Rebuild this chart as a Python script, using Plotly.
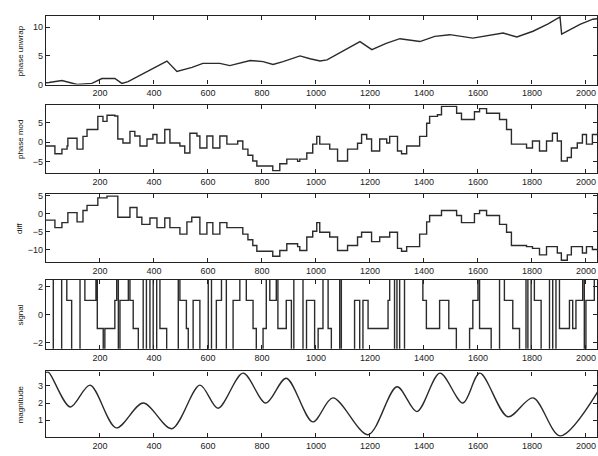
import plotly.graph_objects as go

# ---------------- data ----------------
x_ticks = [200, 400, 600, 800, 1000, 1200, 1400, 1600, 1800, 2000]

unwrap_x = [0, 11, 59, 115, 170, 207, 255, 281, 304, 380, 448, 485, 541, 581, 644, 681,
            756, 804, 841, 878, 941, 978, 1015, 1041, 1100, 1163, 1207, 1260, 1311, 1385,
            1440, 1496, 1581, 1640, 1693, 1744, 1804, 1860, 1904, 1910, 1978, 2026, 2045]
unwrap_y = [0.3, 0.35, 0.7, 0.0, 0.2, 1.05, 1.05, 0.2, 0.5, 2.4, 4.1, 2.3, 3.0, 3.7, 3.7, 3.3,
            4.2, 4.0, 3.5, 4.0, 5.0, 4.5, 4.1, 4.3, 5.9, 7.5, 6.1, 7.2, 8.0, 7.5,
            8.4, 8.7, 8.1, 8.6, 9.0, 8.3, 9.3, 10.6, 11.8, 8.8, 10.5, 11.4, 11.5]

mod_x = [0, 15, 33, 59, 78, 81, 107, 115, 133, 137, 152, 189, 192, 211, 226, 255, 266, 285,
         311, 329, 348, 374, 396, 411, 440, 459, 496, 514, 533, 559, 570, 596, 618, 644, 670,
         699, 710, 729, 748, 766, 781, 829, 840, 866, 892, 914, 932, 940, 966, 988, 1003,
         1014, 1051, 1080, 1117, 1154, 1169, 1188, 1206, 1236, 1262, 1273, 1302, 1317, 1336,
         1373, 1384, 1410, 1421, 1450, 1465, 1506, 1521, 1539, 1576, 1587, 1606, 1632, 1650,
         1680, 1706, 1724, 1754, 1780, 1802, 1828, 1854, 1876, 1894, 1909, 1931, 1946, 1968,
         1987, 2002, 2024, 2045]
mod_y = [-1.0, -1.0, -3.0, -1.8, -1.0, 1.0, 1.0, -1.8, -1.8, 1.5, 3.3, 3.3, 6.7, 5.4, 7.0, 6.8,
         0.8, -0.2, 2.8, 1.6, -1.0, 0.8, 2.0, -0.2, 3.3, -0.2, -1.0, -2.8, 2.3, 1.6, -1.5, 1.6,
         -1.5, 1.6, -0.5, -0.5, 0.3, -1.8, -3.4, -4.9, -6.2, -6.2, -7.4, -5.6, -4.4, -4.4, -5.0,
         -4.4, -2.8, -0.5, 1.5, -0.5, -1.8, -4.9, -1.8, -0.3, 2.0, 0.8, -2.3, 0.8, -0.2, 1.5,
         -2.3, -3.0, -1.0, -1.0, 1.5, 4.9, 6.7, 7.1, 9.3, 9.3, 7.5, 5.9, 5.9, 7.9, 8.7, 7.5,
         7.5, 5.9, 3.3, -0.5, -0.5, -1.5, 0.3, -2.3, 0.3, 2.3, 0.3, -4.9, -4.0, -1.5, -0.2,
         2.0, -0.5, 2.0, 1.0]

diff_x = [0, 15, 33, 59, 81, 107, 115, 133, 137, 152, 189, 192, 226, 255, 266, 292, 311, 337,
          355, 385, 411, 440, 459, 496, 522, 540, 570, 596, 618, 644, 670, 710, 729, 748, 766,
          781, 829, 840, 866, 892, 914, 932, 940, 966, 988, 1003, 1014, 1051, 1080, 1117, 1154,
          1169, 1188, 1206, 1236, 1262, 1273, 1302, 1317, 1336, 1373, 1384, 1410, 1421, 1450,
          1465, 1506, 1521, 1539, 1576, 1587, 1606, 1632, 1650, 1680, 1706, 1724, 1754, 1780,
          1802, 1828, 1854, 1876, 1894, 1909, 1931, 1946, 1968, 1987, 2002, 2024, 2045]
diff_y = [-1.8, -1.8, -3.9, -2.5, 0.3, 0.3, -2.3, -2.3, 0.9, 2.3, 2.3, 4.4, 4.9, 4.9, -1.0,
          -1.0, 1.7, -1.0, -3.0, -1.2, -3.9, -1.2, -3.9, -5.7, -2.3, -1.0, -5.7, -2.5, -5.7,
          -2.5, -3.9, -3.9, -5.7, -7.3, -8.9, -10.5, -10.5, -11.9, -10.3, -8.4, -8.4, -9.2,
          -10.3, -6.5, -4.9, -2.5, -5.2, -6.5, -10.3, -8.9, -6.5, -5.2, -5.2, -7.8, -6.5, -6.5,
          -5.2, -9.7, -10.5, -9.2, -9.2, -5.7, -2.3, -0.5, -0.5, 0.9, 0.9, -0.5, -2.5, -2.5,
          0.0, 0.9, -0.5, -0.5, -3.0, -5.2, -8.9, -8.9, -9.2, -9.7, -11.5, -9.2, -9.2, -11.0,
          -13.0, -11.5, -9.2, -9.2, -11.0, -9.2, -10.0, -9.0]

signal_x = [0, 27, 58, 77, 95, 126, 144, 185, 190, 212, 218, 255, 262, 268, 274, 305, 311, 323,
            342, 360, 372, 385, 397, 410, 422, 447, 490, 496, 520, 527, 545, 570, 601, 613, 631,
            650, 668, 693, 718, 742, 767, 779, 804, 816, 829, 853, 859, 890, 909, 918, 952, 965,
            995, 1008, 1026, 1045, 1057, 1088, 1094, 1143, 1162, 1174, 1193, 1267, 1273, 1291,
            1300, 1310, 1328, 1396, 1409, 1458, 1492, 1520, 1569, 1581, 1600, 1606, 1649, 1680,
            1698, 1729, 1754, 1778, 1785, 1797, 1809, 1834, 1865, 1877, 1889, 1902, 1939, 1951,
            1963, 1988, 1994, 2000, 2031, 2045]
signal_y = [3, -3, 3, 1, -3, 3, 1, 3, -1, -3, -1, 1, 3, -3, 1, 3, 1, -1, -3, 3, -3, 3, -3, 3, -1,
            -3, 3, 1, -1, -3, 1, -3, 3, -3, 1, 3, -3, 1, 3, 1, -1, -3, -1, 3, 1, 3, -1, 1, -3, 3,
            -3, 1, -3, -1, 3, -1, -3, 3, -3, 1, -3, 1, -1, 1, 3, -3, 3, -3, 3, 1, -1, 1, -1, -3,
            -1, 1, 3, -1, -3, 3, 1, -1, -3, 3, -3, 3, 1, -3, 3, -3, 3, -1, 1, -1, 1, 3, -3, 1, 3, 3]

mag_x = [0, 10, 90, 163, 260, 360, 466, 570, 637, 730, 814, 890, 988, 1063, 1193, 1300, 1374,
         1459, 1544, 1607, 1711, 1804, 1904, 2045]
mag_y = [3.8, 3.8, 1.77, 3.05, 0.55, 2.0, 0.5, 3.05, 1.7, 3.75, 2.0, 3.45, 0.9, 2.3, 0.15, 2.95,
         1.5, 3.75, 2.0, 3.75, 1.2, 2.3, 0.08, 2.7]

y_labels = ["phase unwrap", "phase mod", "diff", "signal", "magnitude"]
y_ranges = [[0, 12], [-8, 9.6], [-13.6, 5.6], [-2.45, 2.45], [0, 3.85]]
y_tickvals = [[0, 5, 10], [-5, 0, 5], [-10, -5, 0, 5], [-2, 0, 2], [1, 2, 3]]

series = [
    (unwrap_x, unwrap_y, "linear"),
    (mod_x, mod_y, "hv"),
    (diff_x, diff_y, "hv"),
    (signal_x, signal_y, "hv"),
    (mag_x, mag_y, "spline"),
]

W, H = 598, 456
ML, MR = 46, 1
panel_px = [(13, 83), (104, 173), (194, 264), (282, 352), (375, 442)]
plot_w = W - ML - MR

fig = go.Figure()
layout = dict(
    width=W, height=H,
    margin=dict(l=ML, r=MR, t=0, b=0),
    paper_bgcolor="white", plot_bgcolor="white",
    showlegend=False,
    font=dict(family="Liberation Sans, Arial, sans-serif", size=9, color="#222"),
)
annotations = []
for i, ((xs, ys, shape), (top, bot)) in enumerate(zip(series, panel_px)):
    n = i + 1
    line = dict(color="#2b2b2b", width=1.4, shape=shape)
    if shape == "spline":
        line["smoothing"] = 0.9
    fig.add_trace(go.Scatter(x=xs, y=ys, mode="lines", line=line,
                             xaxis=f"x{n}", yaxis=f"y{n}", hoverinfo="skip"))
    dom = [1 - bot / H, 1 - top / H]
    layout[f"xaxis{n}"] = dict(
        domain=[0, 1], anchor=f"y{n}", range=[0, 2041],
        tickvals=x_ticks, ticks="inside", ticklen=4, tickwidth=1, tickcolor="#222",
        showline=True, linecolor="#222", linewidth=1.2, mirror="ticks",
        showgrid=False, zeroline=False, tickfont=dict(size=9),
    )
    layout[f"yaxis{n}"] = dict(
        domain=dom, anchor=f"x{n}", range=y_ranges[i],
        tickvals=y_tickvals[i], ticks="inside", ticklen=4, tickwidth=1, tickcolor="#222",
        showline=True, linecolor="#222", linewidth=1.2, mirror="ticks",
        showgrid=False, zeroline=False, tickfont=dict(size=9),
    )
    annotations.append(dict(
        text=y_labels[i], xref="paper", yref="paper", x=(20 - ML) / plot_w,
        y=(dom[0] + dom[1]) / 2,
        xanchor="center", yanchor="middle", textangle=-90, showarrow=False,
        font=dict(size=8, color="#111"),
    ))
layout["annotations"] = annotations
fig.update_layout(**layout)
# remove the default page margin so the 598x456 figure fills the window exactly
fig.write_html("out.html",
               config={"displayModeBar": False},
               post_script="document.body.style.margin='0';document.body.style.overflow='hidden';")
